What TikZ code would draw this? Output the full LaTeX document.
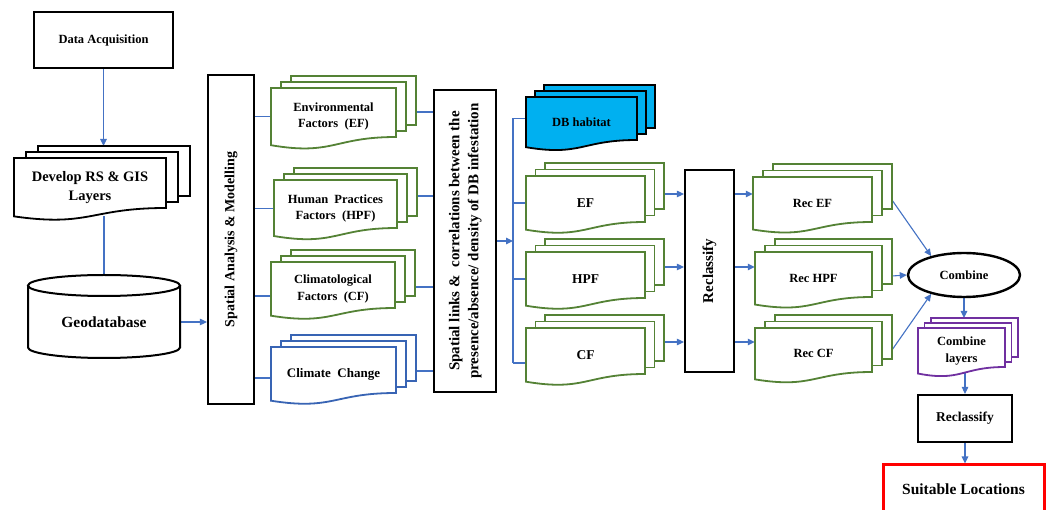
\documentclass[tikz,border=0pt]{standalone}
\usepackage{fontspec}
\setmainfont{Liberation Serif}
\usepackage{graphicx}
\usetikzlibrary{arrows.meta,shapes.geometric}
\definecolor{cblue}{HTML}{4472C4}
\definecolor{dgreen}{HTML}{548235}
\definecolor{dblue}{HTML}{3864B4}
\definecolor{purp}{HTML}{7030A0}
\definecolor{cyanf}{HTML}{00B0F0}
\pgfdeclarelayer{bg}\pgfdeclarelayer{paper}\pgfsetlayers{paper,bg,main}
\def\mdx{10}\def\mdy{6}
% #1 name #2 x1 #3 y1 #4 x2 #5 right-bottom y #6 style #7 text #8 font style #9 right connector y
\newcommand\mdoc[9]{%
  \pgfmathsetmacro\mdH{(#5-#3)/0.8}%
  \pgfmathsetmacro\mdL{#3+0.934*\mdH}%
  \pgfmathsetmacro\mdC{#3+1.107*\mdH}%
  \pgfmathsetmacro\mdM{(#2+#4)/2}%
  \pgfmathsetmacro\mdT{#3+0.47*\mdH}%
  \pgfmathsetmacro\mdS{(4*#5+3*\mdC+\mdL)/8}%
  \pgfmathsetmacro\mdW{#4-#2}%
  \draw[#6] ({#2+2*\mdx},{#3-2*\mdy}) rectangle ({#4+2*\mdx},{#5-2*\mdy});
  \draw[#6] ({#2+\mdx},{#3-\mdy}) rectangle ({#4+\mdx},{#5-\mdy});
  \draw[#6] (#2,#3) -- (#4,#3) -- (#4,#5) .. controls (\mdM,#5) and (\mdM,\mdC) .. (#2,\mdL) -- cycle;
  \node[#8, minimum width=\mdW, inner sep=0pt, align=center] (#1) at (\mdM,\mdT) {#7};
  \coordinate (#1-E) at ({#4+2*\mdx},#9);
  \coordinate (#1-N) at ({\mdM+2*\mdx},{#3-2*\mdy});
  \coordinate (#1-S) at (\mdM,\mdS);
}
\tikzset{
  fs/.code={\pgfmathsetmacro\fsb{#1*1.3}\tikzset{font/.expanded={\noexpand\bfseries\noexpand\fontsize{#1}{\fsb}\noexpand\selectfont}}},
  box/.style={draw=black, line width=2.2pt, fill=white, inner sep=2pt},
  doc/.style={line width=1.8pt, fill=white},
  gdoc/.style={doc, draw=dgreen},
  bdoc/.style={doc, draw=dblue},
  kdoc/.style={doc, draw=black, fill=cyanf},
  pdoc/.style={doc, draw=purp},
  ln/.style={draw=cblue, line width=1.1pt},
  arr/.style={ln, -{Triangle[length=7pt,width=6.5pt]}},
}
\begin{document}
\begin{tikzpicture}[x=1pt,y=-1pt]
\clip (0,0) rectangle (1050,510);
\begin{pgfonlayer}{paper}
\fill[white] (0,0) rectangle (1050,510);
\end{pgfonlayer}

% left column
\node[box, fs=12.5, minimum width=139, minimum height=56] (da) at (103.5,40) {Data Acquisition};
\def\mdx{12}\def\mdy{6}
\mdoc{dev}{14}{158}{166}{208}{doc,draw=black}{Develop RS \& GIS\\Layers}{fs=14.5}{190}
\def\mdx{10}\def\mdy{6}
% geodatabase cylinder
\draw[line width=2pt, fill=white] (28,285.5) -- (28,347.5) arc[start angle=180,end angle=360,x radius=76pt,y radius=10.5pt] -- (180,285.5);
\draw[line width=2pt, fill=white] (104,285.5) ellipse[x radius=76pt, y radius=10.5pt];
\node[fs=15.5, minimum width=152, minimum height=72, inner sep=0pt] (geo) at (104,322) {Geodatabase};

% spatial analysis box
\node[box, minimum width=46, minimum height=329] (sa) at (231,239.5) {\rotatebox{90}{\bfseries\fontsize{14}{16}\selectfont Spatial Analysis \& Modelling}};

% factor documents
\mdoc{ef}{271}{88}{396}{137}{gdoc}{Environmental\\Factors~~(EF)}{fs=12.5}{112}
\mdoc{hpf}{274}{180}{397}{228}{gdoc}{Human~~Practices\\Factors~~(HPF)}{fs=12.5}{196}
\mdoc{cf}{271}{262}{395}{308}{gdoc}{Climatological\\Factors~~(CF)}{fs=12.5}{287}
\mdoc{cc}{271}{347}{396}{393}{bdoc}{Climate~~Change}{fs=13}{371}

% spatial links box
\node[box, minimum width=62, minimum height=302] (sl) at (465,241) {\rotatebox{90}{\bfseries\fontsize{15}{19}\selectfont\begin{tabular}{@{}c@{}}Spatial links \& ~correlations between the\\presence/absence/ density of DB infestation\end{tabular}}};

\coordinate (br) at (513,242);

% second column
\def\mdx{9}\def\mdy{6}
\mdoc{db}{526}{97}{637}{140}{kdoc}{DB habitat}{fs=12.5}{110}
\def\mdx{9.5}\def\mdy{6.5}
\mdoc{ef2}{526}{176}{645}{222}{gdoc}{EF}{fs=13.5}{194}
\mdoc{hpf2}{526}{252}{645}{298}{gdoc}{HPF}{fs=13.5}{267}
\mdoc{cf2}{526}{328}{645}{374}{gdoc}{CF}{fs=13.5}{342}

\node[box, minimum width=49, minimum height=202] (rc) at (709.5,271) {\rotatebox{90}{\bfseries\fontsize{15}{17}\selectfont Reclassify}};

\def\mdx{10}\def\mdy{6.5}
\mdoc{recef}{753}{177}{872}{222}{gdoc}{Rec EF}{fs=12.5}{200}
\mdoc{rechpf}{755}{252}{872}{297}{gdoc}{Rec HPF}{fs=12.5}{276}
\mdoc{reccf}{755}{328}{872}{372}{gdoc}{Rec CF}{fs=12.5}{350}

\node[draw=black, line width=2.4pt, ellipse, fill=white, minimum width=112, minimum height=44, inner sep=0pt, fs=12.5] (comb) at (964,275) {Combine};

\def\mdx{6.5}\def\mdy{5}
\mdoc{cl}{918}{328}{1005}{367}{pdoc}{Combine\\layers}{fs=12.5}{350}

\node[box, fs=13.5, minimum width=94, minimum height=47] (rc2) at (965,418.5) {Reclassify};
\node[draw=red, line width=3pt, fill=white, fs=15.5, minimum width=161, minimum height=49] (suit) at (963.5,489.5) {Suitable Locations};

% connectors
\begin{pgfonlayer}{bg}
\draw[arr] (da.south) -- (da.south |- dev-N);
\draw[ln] (geo.north |- dev-S) -- (geo.north);
\draw[arr] (geo.east) -- (geo.east -| sa.west);
\draw[ln] (sa.east |- ef.west) -- (ef.west);
\draw[ln] (sa.east |- hpf.west) -- (hpf.west);
\draw[ln] ([yshift=-7pt]sa.east |- cf.west) -- ([yshift=-7pt]cf.west);
\draw[ln] ([yshift=-4pt]sa.east |- cc.west) -- ([yshift=-4pt]cc.west);
\draw[ln] (ef-E) -- (ef-E -| sl.west);
\draw[ln] (hpf-E) -- (hpf-E -| sl.west);
\draw[ln] (cf-E) -- (cf-E -| sl.west);
\draw[ln] (cc-E) -- (cc-E -| sl.west);
\draw[arr] (sl.east) -- (sl.east -| br);
\draw[ln] ([yshift=4pt]br |- db.west) -- ([yshift=-8pt]br |- cf2.west);
\draw[ln] ([yshift=4pt]br |- db.west) -- ([yshift=4pt]db.west);
\draw[ln] (br |- ef2.west) -- (ef2.west);
\draw[ln] (br |- hpf2.west) -- (hpf2.west);
\draw[ln] ([yshift=-8pt]br |- cf2.west) -- ([yshift=-8pt]cf2.west);
\draw[arr] (ef2-E) -- (ef2-E -| rc.west);
\draw[arr] (hpf2-E) -- (hpf2-E -| rc.west);
\draw[arr] (cf2-E) -- (cf2-E -| rc.west);
\draw[arr] (rc.east |- ef2-E) -- (recef.west |- ef2-E);
\draw[arr] (rc.east |- hpf2-E) -- (rechpf.west |- hpf2-E);
\draw[arr] (rc.east |- cf2-E) -- (reccf.west |- cf2-E);
\draw[arr] (recef-E) -- (comb.150);
\draw[arr] (rechpf-E) -- (comb.west);
\draw[arr] (reccf-E) -- (comb.210);
\draw[arr] (comb.south) -- (comb.south |- cl-N);
\draw[arr] (rc2.north |- cl-S) -- (rc2.north);
\draw[arr] (rc2.south) -- (rc2.south |- suit.north);
\end{pgfonlayer}
\end{tikzpicture}
\end{document}
